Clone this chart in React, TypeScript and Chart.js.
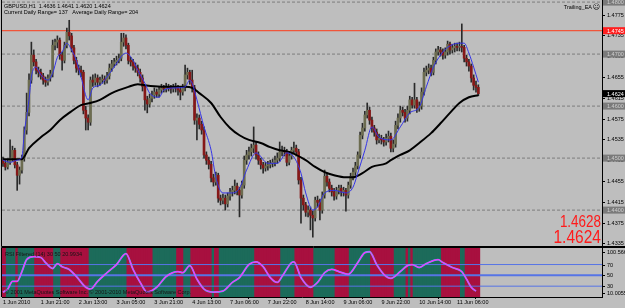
import React, { useEffect, useRef } from 'react';
import { Chart, registerables } from 'chart.js';

Chart.register(...registerables);

const FONT = '"Liberation Sans", Arial, sans-serif';

// ---- header / EA information ----
const symbolName = 'GBPUSD,H1';
const currentDailyRange = 137;
const averageDailyRange = 204;
const expertName = 'Trailing_EA';
const trailingStopLevel = 1.4745;
const eaPriceLabels = ['1.4628', '1.4624'];

// ---- H1 candles (1 Jun 2010 .. 11 Jun 2010) ----
const opens = [
  1.4495, 1.4490, 1.4483, 1.4492, 1.4500, 1.4515, 1.4487, 1.4467, 1.4477, 1.4500,
  1.4554, 1.4588, 1.4650, 1.4698, 1.4685, 1.4669, 1.4665, 1.4658, 1.4650, 1.4646,
  1.4654, 1.4662, 1.4717, 1.4723, 1.4727, 1.4698, 1.4688, 1.4717, 1.4742, 1.4735,
  1.4712, 1.4688, 1.4673, 1.4669, 1.4665, 1.4592, 1.4577, 1.4569, 1.4650, 1.4646,
  1.4654, 1.4646, 1.4650, 1.4652, 1.4650, 1.4658, 1.4673, 1.4681, 1.4685, 1.4688,
  1.4692, 1.4723, 1.4731, 1.4717, 1.4688, 1.4685, 1.4677, 1.4673, 1.4665, 1.4654,
  1.4638, 1.4612, 1.4604, 1.4615, 1.4621, 1.4627, 1.4623, 1.4631, 1.4635, 1.4633,
  1.4637, 1.4635, 1.4633, 1.4637, 1.4635, 1.4631, 1.4627, 1.4635, 1.4660, 1.4665,
  1.4650, 1.4635, 1.4573, 1.4577, 1.4565, 1.4554, 1.4506, 1.4496, 1.4488, 1.4462,
  1.4454, 1.4467, 1.4423, 1.4419, 1.4423, 1.4412, 1.4427, 1.4435, 1.4438, 1.4446,
  1.4438, 1.4429, 1.4448, 1.4496, 1.4506, 1.4512, 1.4519, 1.4525, 1.4506, 1.4496,
  1.4487, 1.4481, 1.4485, 1.4487, 1.4490, 1.4492, 1.4496, 1.4500, 1.4512, 1.4515,
  1.4512, 1.4492, 1.4504, 1.4515, 1.4519, 1.4512, 1.4458, 1.4423, 1.4410, 1.4396,
  1.4400, 1.4390, 1.4385, 1.4419, 1.4415, 1.4400, 1.4429, 1.4465, 1.4454, 1.4442,
  1.4435, 1.4427, 1.4438, 1.4442, 1.4435, 1.4438, 1.4429, 1.4448, 1.4465, 1.4473,
  1.4485, 1.4506, 1.4544, 1.4558, 1.4583, 1.4592, 1.4573, 1.4558, 1.4550, 1.4535,
  1.4538, 1.4535, 1.4531, 1.4538, 1.4542, 1.4519, 1.4527, 1.4563, 1.4577, 1.4592,
  1.4588, 1.4577, 1.4592, 1.4612, 1.4602, 1.4612, 1.4596, 1.4600, 1.4627, 1.4665,
  1.4669, 1.4673, 1.4665, 1.4688, 1.4704, 1.4708, 1.4704, 1.4698, 1.4704, 1.4719,
  1.4708, 1.4712, 1.4715, 1.4713, 1.4715, 1.4713, 1.4692, 1.4685, 1.4677, 1.4654,
  1.4640, 1.4636,
];
const highs = [
  1.4502, 1.4496, 1.4498, 1.4535, 1.4523, 1.4519, 1.4492, 1.4483, 1.4506, 1.4560,
  1.4625, 1.4662, 1.4723, 1.4708, 1.4690, 1.4675, 1.4671, 1.4663, 1.4656, 1.4660,
  1.4669, 1.4727, 1.4729, 1.4735, 1.4731, 1.4704, 1.4723, 1.4750, 1.4765, 1.4740,
  1.4717, 1.4694, 1.4679, 1.4677, 1.4669, 1.4600, 1.4583, 1.4656, 1.4660, 1.4662,
  1.4660, 1.4656, 1.4660, 1.4658, 1.4665, 1.4681, 1.4688, 1.4692, 1.4696, 1.4700,
  1.4740, 1.4740, 1.4737, 1.4721, 1.4694, 1.4690, 1.4683, 1.4679, 1.4671, 1.4660,
  1.4642, 1.4619, 1.4623, 1.4629, 1.4635, 1.4633, 1.4638, 1.4642, 1.4640, 1.4644,
  1.4642, 1.4640, 1.4642, 1.4644, 1.4640, 1.4637, 1.4642, 1.4679, 1.4673, 1.4669,
  1.4669, 1.4640, 1.4585, 1.4583, 1.4571, 1.4560, 1.4512, 1.4502, 1.4494, 1.4469,
  1.4473, 1.4471, 1.4429, 1.4431, 1.4429, 1.4433, 1.4442, 1.4446, 1.4458, 1.4452,
  1.4444, 1.4456, 1.4504, 1.4515, 1.4521, 1.4527, 1.4560, 1.4531, 1.4512, 1.4500,
  1.4492, 1.4492, 1.4494, 1.4496, 1.4498, 1.4504, 1.4510, 1.4531, 1.4523, 1.4521,
  1.4517, 1.4512, 1.4521, 1.4531, 1.4525, 1.4517, 1.4463, 1.4429, 1.4415, 1.4408,
  1.4406, 1.4398, 1.4425, 1.4427, 1.4421, 1.4435, 1.4477, 1.4471, 1.4460, 1.4448,
  1.4442, 1.4444, 1.4448, 1.4448, 1.4444, 1.4442, 1.4454, 1.4471, 1.4481, 1.4492,
  1.4512, 1.4550, 1.4567, 1.4590, 1.4606, 1.4598, 1.4579, 1.4563, 1.4556, 1.4546,
  1.4544, 1.4540, 1.4546, 1.4552, 1.4548, 1.4535, 1.4571, 1.4585, 1.4600, 1.4598,
  1.4594, 1.4600, 1.4619, 1.4617, 1.4644, 1.4617, 1.4608, 1.4635, 1.4673, 1.4677,
  1.4681, 1.4679, 1.4694, 1.4710, 1.4715, 1.4713, 1.4710, 1.4712, 1.4725, 1.4723,
  1.4719, 1.4721, 1.4721, 1.4723, 1.4758, 1.4717, 1.4698, 1.4690, 1.4681, 1.4660,
  1.4648, 1.4641,
];
const lows = [
  1.4484, 1.4477, 1.4479, 1.4488, 1.4494, 1.4481, 1.4438, 1.4450, 1.4471, 1.4494,
  1.4546, 1.4581, 1.4644, 1.4677, 1.4662, 1.4656, 1.4652, 1.4642, 1.4638, 1.4640,
  1.4648, 1.4656, 1.4708, 1.4712, 1.4690, 1.4669, 1.4683, 1.4712, 1.4727, 1.4704,
  1.4681, 1.4665, 1.4660, 1.4656, 1.4585, 1.4554, 1.4554, 1.4563, 1.4638, 1.4640,
  1.4637, 1.4640, 1.4644, 1.4642, 1.4644, 1.4652, 1.4667, 1.4675, 1.4679, 1.4683,
  1.4687, 1.4715, 1.4710, 1.4681, 1.4677, 1.4669, 1.4665, 1.4658, 1.4646, 1.4629,
  1.4592, 1.4587, 1.4598, 1.4608, 1.4615, 1.4617, 1.4617, 1.4625, 1.4627, 1.4627,
  1.4629, 1.4625, 1.4627, 1.4627, 1.4621, 1.4612, 1.4621, 1.4629, 1.4652, 1.4642,
  1.4627, 1.4565, 1.4535, 1.4556, 1.4546, 1.4500, 1.4488, 1.4479, 1.4454, 1.4446,
  1.4448, 1.4415, 1.4410, 1.4412, 1.4400, 1.4406, 1.4419, 1.4427, 1.4431, 1.4429,
  1.4387, 1.4423, 1.4442, 1.4488, 1.4498, 1.4504, 1.4510, 1.4498, 1.4488, 1.4479,
  1.4471, 1.4475, 1.4477, 1.4481, 1.4483, 1.4485, 1.4490, 1.4494, 1.4504, 1.4504,
  1.4485, 1.4487, 1.4498, 1.4508, 1.4504, 1.4450, 1.4375, 1.4400, 1.4388, 1.4387,
  1.4362, 1.4348, 1.4379, 1.4406, 1.4381, 1.4394, 1.4423, 1.4446, 1.4435, 1.4427,
  1.4419, 1.4421, 1.4431, 1.4427, 1.4427, 1.4398, 1.4423, 1.4442, 1.4458, 1.4467,
  1.4479, 1.4500, 1.4537, 1.4552, 1.4577, 1.4565, 1.4550, 1.4542, 1.4527, 1.4529,
  1.4527, 1.4523, 1.4525, 1.4531, 1.4512, 1.4512, 1.4521, 1.4556, 1.4569, 1.4581,
  1.4569, 1.4571, 1.4585, 1.4596, 1.4596, 1.4588, 1.4590, 1.4594, 1.4621, 1.4658,
  1.4662, 1.4658, 1.4660, 1.4681, 1.4698, 1.4696, 1.4690, 1.4692, 1.4698, 1.4700,
  1.4702, 1.4704, 1.4706, 1.4706, 1.4704, 1.4685, 1.4677, 1.4667, 1.4646, 1.4631,
  1.4627, 1.4620,
];
const closes = [
  1.4490, 1.4483, 1.4492, 1.4500, 1.4515, 1.4487, 1.4467, 1.4477, 1.4500, 1.4554,
  1.4588, 1.4650, 1.4698, 1.4685, 1.4669, 1.4665, 1.4658, 1.4650, 1.4646, 1.4654,
  1.4662, 1.4717, 1.4723, 1.4727, 1.4698, 1.4688, 1.4717, 1.4742, 1.4735, 1.4712,
  1.4688, 1.4673, 1.4669, 1.4665, 1.4592, 1.4577, 1.4569, 1.4650, 1.4646, 1.4654,
  1.4646, 1.4650, 1.4652, 1.4650, 1.4658, 1.4673, 1.4681, 1.4685, 1.4688, 1.4692,
  1.4723, 1.4731, 1.4717, 1.4688, 1.4685, 1.4677, 1.4673, 1.4665, 1.4654, 1.4638,
  1.4612, 1.4604, 1.4615, 1.4621, 1.4627, 1.4623, 1.4631, 1.4635, 1.4633, 1.4637,
  1.4635, 1.4633, 1.4637, 1.4635, 1.4631, 1.4627, 1.4635, 1.4660, 1.4665, 1.4650,
  1.4635, 1.4573, 1.4577, 1.4565, 1.4554, 1.4506, 1.4496, 1.4488, 1.4462, 1.4454,
  1.4467, 1.4423, 1.4419, 1.4423, 1.4412, 1.4427, 1.4435, 1.4438, 1.4446, 1.4438,
  1.4429, 1.4448, 1.4496, 1.4506, 1.4512, 1.4519, 1.4525, 1.4506, 1.4496, 1.4487,
  1.4481, 1.4485, 1.4487, 1.4490, 1.4492, 1.4496, 1.4500, 1.4512, 1.4515, 1.4512,
  1.4492, 1.4504, 1.4515, 1.4519, 1.4512, 1.4458, 1.4423, 1.4410, 1.4396, 1.4400,
  1.4390, 1.4385, 1.4419, 1.4415, 1.4400, 1.4429, 1.4465, 1.4454, 1.4442, 1.4435,
  1.4427, 1.4438, 1.4442, 1.4435, 1.4438, 1.4429, 1.4448, 1.4465, 1.4473, 1.4485,
  1.4506, 1.4544, 1.4558, 1.4583, 1.4592, 1.4573, 1.4558, 1.4550, 1.4535, 1.4538,
  1.4535, 1.4531, 1.4538, 1.4542, 1.4519, 1.4527, 1.4563, 1.4577, 1.4592, 1.4588,
  1.4577, 1.4592, 1.4612, 1.4602, 1.4612, 1.4596, 1.4600, 1.4627, 1.4665, 1.4669,
  1.4673, 1.4665, 1.4688, 1.4704, 1.4708, 1.4704, 1.4698, 1.4704, 1.4719, 1.4708,
  1.4712, 1.4715, 1.4713, 1.4715, 1.4713, 1.4692, 1.4685, 1.4677, 1.4654, 1.4640,
  1.4636, 1.4624,
];

// ---- moving averages: [bar index, price] ----
const fastMaPoints = [
  [0, 1.4496], [3, 1.4492], [6, 1.4496], [8, 1.4502], [9, 1.4548], [11, 1.4612], [12, 1.4656],
  [14, 1.4675], [16, 1.4660], [19, 1.4650], [21, 1.4663], [23, 1.4694], [25, 1.4704], [27, 1.4721],
  [29, 1.4708], [31, 1.4688], [33, 1.4656], [36, 1.4612], [38, 1.4635], [41, 1.4640], [43, 1.4650],
  [47, 1.4675], [52, 1.4702], [55, 1.4688], [57, 1.4669], [60, 1.4644], [62, 1.4625], [66, 1.4617],
  [68, 1.4631], [73, 1.4635], [77, 1.4637], [79, 1.4650], [80, 1.4644], [82, 1.4612], [85, 1.4560],
  [88, 1.4515], [90, 1.4463], [93, 1.4433], [97, 1.4433], [100, 1.4442], [103, 1.4477], [107, 1.4510],
  [112, 1.4490], [116, 1.4490], [120, 1.4510], [123, 1.4502], [126, 1.4471], [128, 1.4433], [131, 1.4400],
  [133, 1.4406], [136, 1.4433], [140, 1.4438], [145, 1.4433], [148, 1.4444], [150, 1.4471], [153, 1.4515],
  [156, 1.4560], [159, 1.4540], [164, 1.4535], [168, 1.4560], [172, 1.4587], [176, 1.4598], [179, 1.4637],
  [182, 1.4675], [185, 1.4698], [188, 1.4713], [193, 1.4721], [195, 1.4721], [197, 1.4702], [199, 1.4675],
  [201, 1.4646],
];
const slowMaPoints = [
  [0, 1.4498], [8, 1.4498], [11, 1.4519], [16, 1.4540], [20, 1.4554], [24, 1.4573], [28, 1.4587],
  [33, 1.4602], [37, 1.4606], [41, 1.4612], [46, 1.4625], [53, 1.4637], [57, 1.4642], [60, 1.4640],
  [64, 1.4638], [70, 1.4637], [77, 1.4637], [80, 1.4635], [83, 1.4625], [88, 1.4606], [92, 1.4579],
  [96, 1.4558], [100, 1.4544], [104, 1.4535], [109, 1.4529], [113, 1.4521], [117, 1.4515], [121, 1.4512],
  [128, 1.4496], [132, 1.4483], [136, 1.4473], [140, 1.4467], [145, 1.4463], [148, 1.4463], [152, 1.4471],
  [156, 1.4483], [162, 1.4490], [164, 1.4496], [168, 1.4506], [172, 1.4515], [176, 1.4529], [181, 1.4548],
  [185, 1.4567], [189, 1.4587], [193, 1.4606], [197, 1.4617], [201, 1.4621],
];

// ---- price axis ----
const priceTicks = [1.4335, 1.4375, 1.4415, 1.4455, 1.4495, 1.4535, 1.4575, 1.4615, 1.4655, 1.4695, 1.4735, 1.4775];
const roundLevels = [1.44, 1.45, 1.46, 1.47, 1.48];
const priceMin = 1.4331;
const priceMax = 1.4804;

// ---- time axis (bar index range shown) ----
const barMin = -0.42;
const barMax = 253.28;
const timeTickBars = [0, 16, 32, 48, 64, 80, 96, 112, 128, 144, 160, 176, 192];
const timeLabels = [
  '1 Jun 2010', '1 Jun 21:00', '2 Jun 13:00', '3 Jun 05:00', '3 Jun 21:00', '4 Jun 13:00',
  '7 Jun 06:00', '7 Jun 22:00', '8 Jun 14:00', '9 Jun 06:00', '9 Jun 22:00', '10 Jun 14:00', '11 Jun 06:00',
];

// ---- RSI filter sub-window ----
const rsiPoints = [
  [0, 19], [2, 24.5], [4, 39], [6, 39], [8, 57], [10, 79], [13, 84.5], [16, 83], [18, 73.6], [21, 62.7],
  [23, 71.8], [25, 66], [28, 61], [31, 48], [35, 28], [37, 24.5], [40, 39], [44, 55], [48, 70], [52, 90],
  [55, 61], [58, 37], [61, 19], [65, 28], [69, 48], [74, 57], [76, 55], [79, 68], [82, 43], [85, 24.5],
  [89, 19], [93, 21], [97, 37], [100, 46], [104, 70], [107, 75], [110, 66], [113, 46], [116, 37], [118, 48],
  [122, 73.6], [123, 75], [126, 46], [130, 28], [133, 37], [136, 55], [139, 61], [142, 57], [146, 52],
  [150, 73.6], [153, 92], [155, 93.6], [158, 70], [161, 52], [164, 44.5], [168, 57], [171, 68], [173, 70],
  [176, 64.5], [179, 71.8], [184, 79], [186, 73.6], [190, 64.5], [194, 57], [196, 43], [198, 28], [200, 21],
];
const rsiLevels = [30, 50, 70];
const rsiMin = 10.0055;
const rsiMax = 100.566;
const rsiTitle = 'RSI Filtered (14) 30 50 20.9934';
const copyrightText = '\u00A9 2001 MetaQuotes Software Inc. \u00A9 2001-2010 MetaQuotes Software Corp.';
// [first bar, last bar, state]  R = bearish filter, G = bullish filter
const bandSegments = [
  [0, 1, 'R'], [2, 5, 'G'], [6, 6, 'R'], [7, 13, 'G'], [14, 21, 'R'], [22, 24, 'G'], [25, 36, 'R'],
  [37, 52, 'G'], [53, 63, 'R'], [64, 73, 'G'], [74, 76, 'R'], [77, 79, 'G'], [80, 88, 'R'], [89, 89, 'G'],
  [90, 91, 'R'], [92, 106, 'G'], [107, 117, 'R'], [118, 123, 'G'], [124, 131, 'R'], [132, 140, 'G'],
  [141, 146, 'R'], [147, 155, 'G'], [156, 165, 'R'], [166, 170, 'G'], [171, 171, 'R'], [172, 172, 'G'],
  [173, 173, 'R'], [174, 185, 'G'], [186, 193, 'R'], [194, 195, 'G'], [196, 201, 'R'],
];

const COLORS = {
  bg: '#bebebe',
  up: '#6c6c50',
  down: '#861818',
  wick: '#2a2a2a',
  fastMa: '#3434e6',
  slowMa: '#000000',
  trailing: '#f0553a',
  grid: '#7c7c7c',
  bandRed: '#a8103f',
  bandGreen: '#1c6b5a',
  level: '#5674e6',
  rsiMain: '#ff2cff',
  rsiSignal: '#3cc8f0',
};

const hLine = (value: number, color: string, width: number, order: number, dash: number[] = []) => ({
  type: 'line',
  data: [{ x: barMin, y: value }, { x: barMax, y: value }],
  borderColor: color,
  borderWidth: width,
  borderDash: dash,
  pointRadius: 0,
  order,
});

const mainOverlay = {
  id: 'mainOverlay',
  afterDraw(chart: any) {
    const { ctx, chartArea: a, scales } = chart;
    const y = scales.y;
    ctx.save();
    ctx.strokeStyle = '#000';
    ctx.lineWidth = 1;
    ctx.beginPath();
    ctx.moveTo(a.left - 0.5, 0);
    ctx.lineTo(a.left - 0.5, a.bottom + 0.5);
    ctx.lineTo(chart.width, a.bottom + 0.5);
    ctx.stroke();

    ctx.font = `5.5px ${FONT}`;
    ctx.textBaseline = 'middle';
    ctx.textAlign = 'left';
    const box = (v: number, fill: string, text: string) => {
      const py = y.getPixelForValue(v);
      ctx.fillStyle = fill;
      ctx.fillRect(a.right + 1, py - 3.5, chart.width - a.right - 1, 7);
      ctx.fillStyle = text;
      ctx.fillText(v.toFixed(4), a.right + 5, py + 0.5);
    };
    roundLevels.forEach((l) => box(l, '#7a7a7a', '#cfcfcf'));
    box(trailingStopLevel, '#ff1e1e', '#ffffff');
    const last = closes.length - 1;
    box(closes[last], '#000000', '#ffffff');

    ctx.fillStyle = '#000';
    const ohlc = [opens[last], highs[last], lows[last], closes[last]].map((v) => v.toFixed(4)).join(' ');
    ctx.fillText(`${symbolName}  ${ohlc}`, a.left + 2, 6);
    ctx.fillText(
      `Current Daily Range= ${currentDailyRange}   Average Daily Range= ${averageDailyRange}`,
      a.left + 2,
      12.5,
    );
    ctx.textAlign = 'right';
    ctx.fillText(expertName, a.right - 10, 7);
    ctx.font = `7px "DejaVu Sans", sans-serif`;
    ctx.fillText('\u2639', a.right - 2, 7);

    ctx.fillStyle = '#ff1a1a';
    const big = [
      { text: eaPriceLabels[0], size: 16, base: 227 },
      { text: eaPriceLabels[1], size: 18.5, base: 243 },
    ];
    big.forEach((b) => {
      ctx.save();
      ctx.translate(a.right - 1, b.base);
      ctx.scale(0.84, 1);
      ctx.font = `${b.size}px ${FONT}`;
      ctx.textBaseline = 'alphabetic';
      ctx.textAlign = 'right';
      ctx.fillText(b.text, 0, 0);
      ctx.restore();
    });
    ctx.restore();
  },
};

const rsiOverlay = {
  id: 'rsiOverlay',
  afterDraw(chart: any) {
    const { ctx, chartArea: a, scales } = chart;
    const y = scales.y;
    ctx.save();
    ctx.strokeStyle = '#000';
    ctx.lineWidth = 1;
    ctx.beginPath();
    ctx.moveTo(a.left - 0.5, a.bottom);
    ctx.lineTo(a.left - 0.5, a.top - 0.5);
    ctx.lineTo(chart.width, a.top - 0.5);
    ctx.stroke();

    ctx.font = `5.5px ${FONT}`;
    ctx.textBaseline = 'middle';
    ctx.textAlign = 'left';
    ctx.fillStyle = '#000';
    const labels = [rsiMax, ...rsiLevels.slice().reverse(), rsiMin];
    labels.forEach((v) => {
      const raw = y.getPixelForValue(v);
      const py = Math.min(Math.max(raw, a.top + 4), a.bottom - 4);
      ctx.beginPath();
      ctx.moveTo(a.right, Math.round(py) + 0.5);
      ctx.lineTo(a.right + 3, Math.round(py) + 0.5);
      ctx.stroke();
      ctx.fillText(String(v), a.right + 5, py + 0.5);
    });

    ctx.fillStyle = '#151515';
    ctx.fillText(rsiTitle, a.left + 3, a.top + 6);
    ctx.fillText(copyrightText, a.left + 3, a.bottom - 5);
    ctx.restore();
  },
};

export default function App() {
  const mainRef = useRef<HTMLCanvasElement>(null);
  const rsiRef = useRef<HTMLCanvasElement>(null);

  useEffect(() => {
    document.body.style.margin = '0';
    const bandStates: string[] = [];
    bandSegments.forEach(([from, to, s]) => {
      for (let i = from as number; i <= (to as number); i++) bandStates[i] = s as string;
    });

    const main = new Chart(mainRef.current as HTMLCanvasElement, {
      type: 'bar',
      data: {
        datasets: [
          {
            type: 'line',
            data: fastMaPoints.map(([x, y]) => ({ x, y })),
            borderColor: COLORS.fastMa,
            borderWidth: 1,
            pointRadius: 0,
            cubicInterpolationMode: 'monotone',
            order: 1,
          },
          {
            type: 'line',
            data: slowMaPoints.map(([x, y]) => ({ x, y })),
            borderColor: COLORS.slowMa,
            borderWidth: 2,
            pointRadius: 0,
            cubicInterpolationMode: 'monotone',
            order: 2,
          },
          {
            type: 'bar',
            data: closes.map((c, i) => ({ x: i, y: [opens[i], c] })),
            backgroundColor: closes.map((c, i) => (c >= opens[i] ? COLORS.up : COLORS.down)),
            barThickness: 2,
            minBarLength: 1,
            grouped: false,
            borderWidth: 0,
            borderSkipped: false,
            order: 3,
          },
          {
            type: 'bar',
            data: highs.map((h, i) => ({ x: i, y: [lows[i], h] })),
            backgroundColor: COLORS.wick,
            barThickness: 1,
            grouped: false,
            borderWidth: 0,
            borderSkipped: false,
            order: 4,
          },
          hLine(trailingStopLevel, COLORS.trailing, 1.2, 5),
          ...roundLevels.map((l) => hLine(l, COLORS.grid, 1, 6, [3, 2])),
        ] as any,
      },
      options: {
        animation: false,
        responsive: false,
        events: [],
        layout: { padding: { left: 2, top: 0, right: 0, bottom: 1 } },
        plugins: { legend: { display: false }, tooltip: { enabled: false } },
        scales: {
          x: { type: 'linear', min: barMin, max: barMax, offset: false, bounds: 'data', display: false },
          y: {
            position: 'right',
            min: priceMin,
            max: priceMax,
            bounds: 'data',
            afterBuildTicks: (s: any) => {
              s.ticks = priceTicks.map((v) => ({ value: v }));
            },
            afterFit: (s: any) => {
              s.width = 23;
              s.paddingTop = 0;
              s.paddingBottom = 0;
            },
            ticks: {
              autoSkip: false,
              color: '#000',
              padding: 2,
              font: { size: 5.5, family: FONT },
              callback: (v: any) => Number(v).toFixed(4),
            },
            grid: { drawOnChartArea: false, drawTicks: true, tickLength: 3, color: '#000' },
            border: { display: true, color: '#000' },
          },
        },
      } as any,
      plugins: [mainOverlay],
    });

    const rsiData = rsiPoints.map(([x, y]) => ({ x, y }));
    const rsi = new Chart(rsiRef.current as HTMLCanvasElement, {
      type: 'bar',
      data: {
        datasets: [
          {
            type: 'line',
            data: rsiData,
            borderColor: COLORS.rsiMain,
            borderWidth: 1.2,
            pointRadius: 0,
            cubicInterpolationMode: 'monotone',
            order: 1,
          },
          {
            type: 'line',
            data: rsiData,
            borderColor: COLORS.rsiSignal,
            borderWidth: 1.8,
            pointRadius: 0,
            cubicInterpolationMode: 'monotone',
            order: 2,
          },
          ...rsiLevels.map((l) => hLine(l, COLORS.level, l === 50 ? 2 : 1, 3)),
          {
            type: 'bar',
            data: bandStates.map((_, i) => ({ x: i, y: [rsiMin, rsiMax] })),
            backgroundColor: bandStates.map((s) => (s === 'R' ? COLORS.bandRed : COLORS.bandGreen)),
            barThickness: 3,
            grouped: false,
            borderWidth: 0,
            borderSkipped: false,
            order: 4,
          },
        ] as any,
      },
      options: {
        animation: false,
        responsive: false,
        events: [],
        layout: { padding: { left: 2, top: 1, right: 0, bottom: 0 } },
        plugins: { legend: { display: false }, tooltip: { enabled: false } },
        scales: {
          x: {
            type: 'linear',
            min: barMin,
            max: barMax,
            offset: false,
            bounds: 'data',
            afterBuildTicks: (s: any) => {
              s.ticks = timeTickBars.map((v) => ({ value: v }));
            },
            afterFit: (s: any) => {
              s.height = 11;
              s.paddingLeft = 0;
              s.paddingRight = 0;
            },
            ticks: {
              autoSkip: false,
              maxRotation: 0,
              minRotation: 0,
              align: 'start',
              padding: 0,
              color: '#000',
              font: { size: 5.5, family: FONT },
              callback: (_v: any, i: number) => timeLabels[i],
            },
            grid: { drawOnChartArea: false, drawTicks: true, tickLength: 2, color: '#000' },
            border: { display: true, color: '#000' },
          },
          y: {
            position: 'right',
            min: rsiMin,
            max: rsiMax,
            bounds: 'data',
            afterFit: (s: any) => {
              s.width = 23;
              s.paddingTop = 0;
              s.paddingBottom = 0;
            },
            ticks: { display: false },
            grid: { display: false },
            border: { display: true, color: '#000' },
          },
        },
      } as any,
      plugins: [rsiOverlay],
    });

    return () => {
      main.destroy();
      rsi.destroy();
    };
  }, []);

  return (
    <div
      style={{
        position: 'relative',
        width: 625,
        height: 308,
        background: COLORS.bg,
        overflow: 'hidden',
      }}
    >
      <canvas ref={mainRef} width={625} height={247} style={{ position: 'absolute', left: 0, top: 0 }} />
      <canvas ref={rsiRef} width={625} height={61} style={{ position: 'absolute', left: 0, top: 247 }} />
    </div>
  );
}
